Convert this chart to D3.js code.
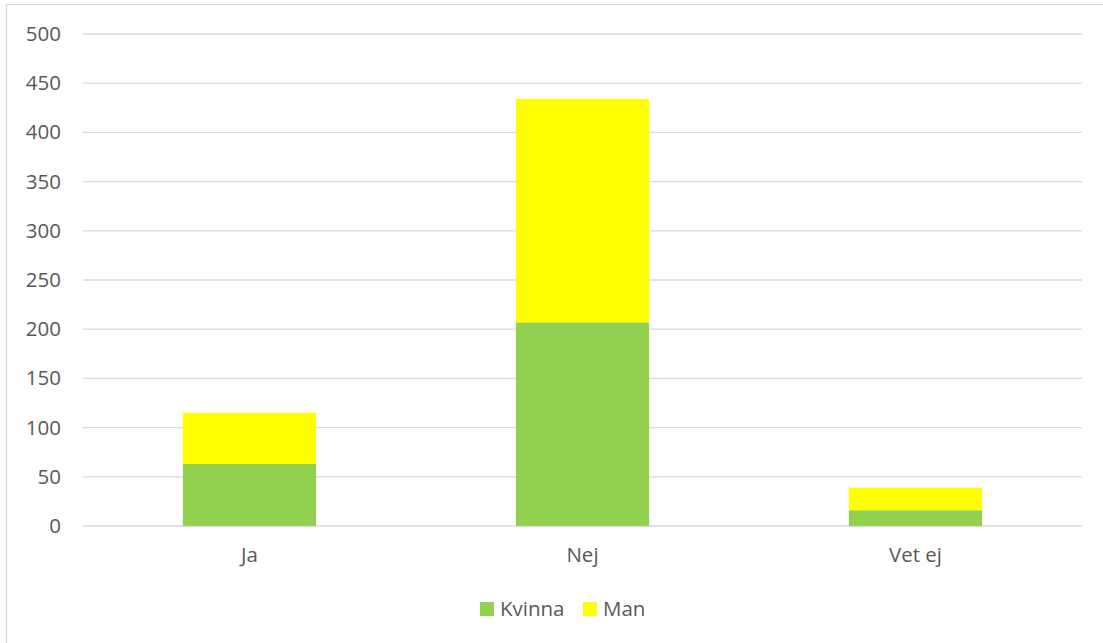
<!DOCTYPE html>
<html lang="sv">
<head>
<meta charset="utf-8">
<title>Ja / Nej / Vet ej</title>
<script src="https://cdn.jsdelivr.net/npm/d3@7"></script>
<style>
  body { margin: 0; background: #fff; }
  text { font-family: "Open Sans", "Liberation Sans", sans-serif; fill: #595959; }
</style>
</head>
<body>
<script>
const categories = ["Ja", "Nej", "Vet ej"];
const kvinna = [63, 207, 16];
const man = [52, 227, 23];
const seriesNames = ["Kvinna", "Man"];
const seriesColors = ["#92D050", "#FFFF00"];
const yTicks = [0, 50, 100, 150, 200, 250, 300, 350, 400, 450, 500];

const w = 1103, h = 643;
const margin = {top: 34, right: 21, bottom: 117, left: 83};
const fontSize = "20.5px";

const svg = d3.select("body").append("svg").attr("width", w).attr("height", h);

svg.append("rect")
   .attr("x", 6.5).attr("y", 4.5)
   .attr("width", w).attr("height", h)
   .attr("fill", "#fff").attr("stroke", "#d9d9d9").attr("stroke-width", 1.3);

const x = d3.scaleBand()
            .domain(categories)
            .range([margin.left, w - margin.right])
            .paddingInner(0.6).paddingOuter(0.3);

const y = d3.scaleLinear()
            .domain([0, 500])
            .range([h - margin.bottom, margin.top]);

// gridlines
svg.append("g")
   .selectAll("line")
   .data(yTicks)
   .join("line")
   .attr("x1", margin.left).attr("x2", w - margin.right)
   .attr("y1", d => y(d)).attr("y2", d => y(d))
   .attr("stroke", "#d9d9d9").attr("stroke-width", 1.3);

// y axis labels
const yAxis = d3.axisLeft(y).tickValues(yTicks).tickSize(0).tickPadding(22);
svg.append("g")
   .attr("transform", "translate(" + margin.left + ",0)")
   .call(yAxis)
   .call(g => g.select(".domain").remove())
   .selectAll("text")
   .style("font-size", fontSize).attr("fill", "#595959");

// stacked bars
const rows = categories.map((c, i) => ({cat: c, Kvinna: kvinna[i], Man: man[i]}));
const stacked = d3.stack().keys(seriesNames)(rows);

svg.append("g")
   .selectAll("g")
   .data(stacked)
   .join("g")
   .attr("fill", (d, i) => seriesColors[i])
   .selectAll("rect")
   .data(d => d)
   .join("rect")
   .attr("x", d => x(d.data.cat))
   .attr("width", x.bandwidth())
   .attr("y", d => y(d[1]))
   .attr("height", d => y(d[0]) - y(d[1]));

// x axis labels
const xAxis = d3.axisBottom(x).tickSize(0).tickPadding(21);
svg.append("g")
   .attr("transform", "translate(0," + y(0) + ")")
   .call(xAxis)
   .call(g => g.select(".domain").remove())
   .selectAll("text")
   .style("font-size", fontSize).attr("fill", "#595959");

// legend
const legendX = [480, 583];
const legend = svg.append("g")
   .selectAll("g")
   .data(seriesNames)
   .join("g")
   .attr("transform", (d, i) => "translate(" + legendX[i] + ",602)");

legend.append("rect")
   .attr("width", 14).attr("height", 14)
   .attr("fill", (d, i) => seriesColors[i]);

legend.append("text")
   .attr("x", 20).attr("y", 7)
   .attr("dy", "0.35em")
   .style("font-size", fontSize)
   .text(d => d);
</script>
</body>
</html>
